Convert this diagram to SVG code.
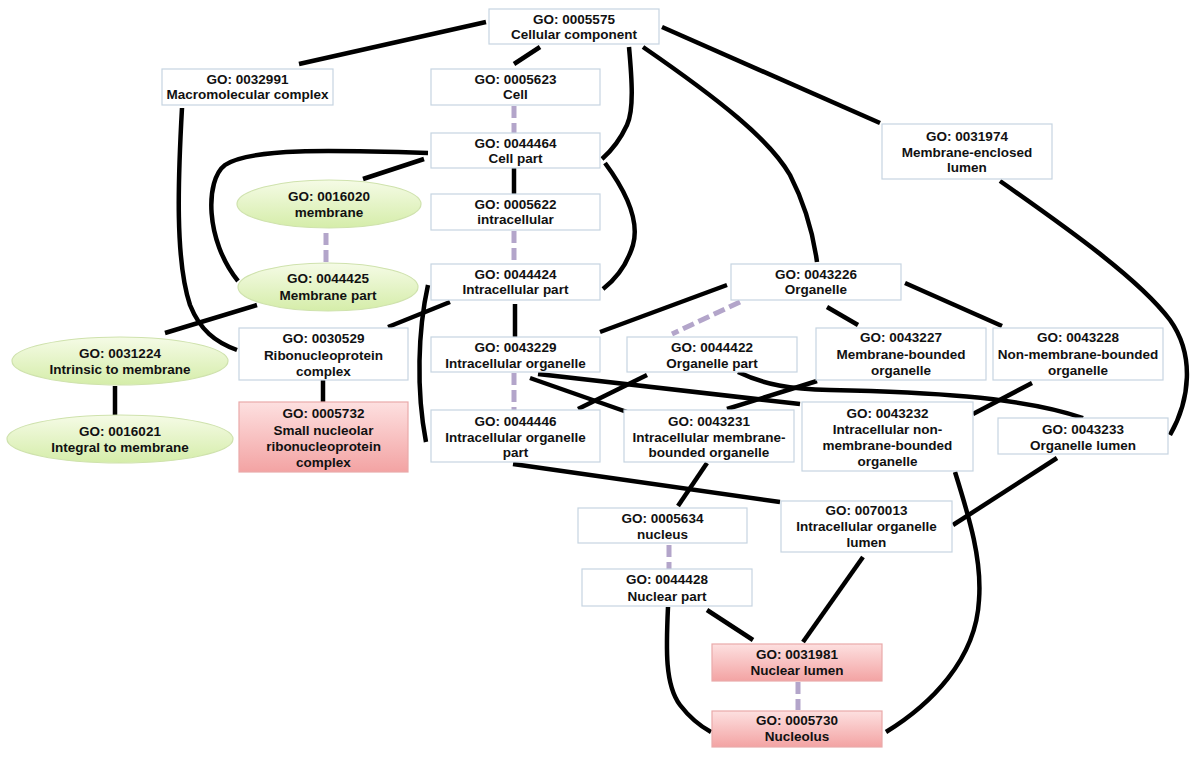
<svg xmlns="http://www.w3.org/2000/svg" width="1200" height="757" viewBox="0 0 1200 757">
<defs>
<linearGradient id="pink" x1="0" y1="0" x2="0" y2="1">
<stop offset="0" stop-color="#fde0e0"/>
<stop offset="1" stop-color="#f3a3a3"/>
</linearGradient>
<linearGradient id="green" x1="0" y1="0" x2="0" y2="1">
<stop offset="0" stop-color="#f5fbe6"/>
<stop offset="1" stop-color="#d5eda9"/>
</linearGradient>
<style>
.box{fill:#ffffff;stroke:#c6d4e1;stroke-width:1.2}
.pk{fill:url(#pink);stroke:#e9aaaa;stroke-width:1.2}
.gr{fill:url(#green);stroke:#cfe2ad;stroke-width:1.2}
text{font-family:"Liberation Sans",Arial,sans-serif;font-weight:bold;font-size:13.5px;fill:#111;text-anchor:middle}
.s{fill:none;stroke:#000;stroke-width:4.5}
.d{fill:none;stroke:#b3a5ca;stroke-width:5;stroke-dasharray:12 5}
</style>
</defs>
<rect width="1200" height="757" fill="#ffffff"/>
<g id="connectors">
<path class="s" d="M486,22 L299,64"/>
<path class="s" d="M540,47 L514,64"/>
<path class="s" d="M629,47 C632,80 634,110 627,125 C620,140 610,152 602,159"/>
<path class="s" d="M662,27 L880,123"/>
<path class="s" d="M643,47 C720,100 770,140 790,175 C808,210 814,240 817,262"/>
<path class="d" d="M514,106 L514,133"/>
<path class="s" d="M428,153 C330,150 250,148 225,165 C205,180 205,240 238,281"/>
<path class="s" d="M424,159 L363,179"/>
<path class="s" d="M514,168 L514,194"/>
<path class="s" d="M605,163 C625,190 640,220 633,245 C626,268 612,282 603,289"/>
<path class="d" d="M514,231 L514,264"/>
<path class="d" d="M326,233 L326,262"/>
<path class="s" d="M182,108 C178,180 175,260 190,305 C200,330 215,342 237,350"/>
<path class="s" d="M257,305 L165,333"/>
<path class="s" d="M115,386 L115,415"/>
<path class="s" d="M323,380 L323,402"/>
<path class="s" d="M450,302 L388,327"/>
<path class="s" d="M428,285 C418,330 416,390 426,442"/>
<path class="s" d="M515,304 L515,337"/>
<path class="s" d="M727,285 L600,332"/>
<path class="d" d="M740,302 L672,334"/>
<path class="s" d="M827,307 L858,325"/>
<path class="s" d="M905,283 L1002,326"/>
<path class="s" d="M1000,181 C1070,230 1140,280 1170,320 C1195,355 1190,400 1170,435"/>
<path class="d" d="M514,373 L514,410"/>
<path class="s" d="M530,378 L627,412"/>
<path class="s" d="M538,374 L800,404"/>
<path class="s" d="M647,375 L578,409"/>
<path class="s" d="M738,372 C765,385 790,389 830,390 C920,392 1020,396 1083,418"/>
<path class="s" d="M817,381 L727,409"/>
<path class="s" d="M1032,383 L973,414"/>
<path class="s" d="M707,463 L678,506"/>
<path class="s" d="M513,464 L780,502"/>
<path class="s" d="M1057,458 L953,525"/>
<path class="s" d="M955,472 C970,520 982,560 979,600 C976,660 930,705 886,732"/>
<path class="d" d="M669,545 L669,569"/>
<path class="s" d="M863,557 L803,642"/>
<path class="s" d="M707,610 L753,640"/>
<path class="s" d="M668,607 C666,650 665,685 680,705 C690,718 700,726 711,732"/>
<path class="d" d="M798,682 L798,710"/>
</g>
<g id="n0005575"><rect class="box" x="489" y="9" width="170" height="35"/><text x="574" y="24">GO: 0005575</text><text x="574" y="39">Cellular component</text></g>
<g id="n0032991"><rect class="box" x="162" y="69" width="171" height="36"/><text x="247.5" y="84">GO: 0032991</text><text x="247.5" y="99">Macromolecular complex</text></g>
<g id="n0005623"><rect class="box" x="431" y="69" width="169" height="36"/><text x="515.5" y="84">GO: 0005623</text><text x="515.5" y="99">Cell</text></g>
<g id="n0044464"><rect class="box" x="431" y="133" width="169" height="35"/><text x="515.5" y="148">GO: 0044464</text><text x="515.5" y="163">Cell part</text></g>
<g id="n0005622"><rect class="box" x="431" y="194" width="169" height="36"/><text x="515.5" y="209">GO: 0005622</text><text x="515.5" y="224">intracellular</text></g>
<g id="n0031974"><rect class="box" x="882" y="124" width="170" height="55"/><text x="967" y="141">GO: 0031974</text><text x="967" y="156.5">Membrane-enclosed</text><text x="967" y="172">lumen</text></g>
<g id="n0016020"><ellipse class="gr" cx="329" cy="204" rx="92" ry="24"/><text x="329" y="201">GO: 0016020</text><text x="329" y="217">membrane</text></g>
<g id="n0044425"><ellipse class="gr" cx="328" cy="287" rx="90" ry="24"/><text x="328" y="283">GO: 0044425</text><text x="328" y="300">Membrane part</text></g>
<g id="n0031224"><ellipse class="gr" cx="120" cy="361" rx="108" ry="24"/><text x="120" y="358">GO: 0031224</text><text x="120" y="374">Intrinsic to membrane</text></g>
<g id="n0016021"><ellipse class="gr" cx="120" cy="439" rx="113" ry="24"/><text x="120" y="436">GO: 0016021</text><text x="120" y="452">Integral to membrane</text></g>
<g id="n0044424"><rect class="box" x="431" y="264" width="169" height="36"/><text x="515.5" y="279">GO: 0044424</text><text x="515.5" y="294">Intracellular part</text></g>
<g id="n0043226"><rect class="box" x="731" y="264" width="170" height="36"/><text x="816" y="279">GO: 0043226</text><text x="816" y="294">Organelle</text></g>
<g id="n0030529"><rect class="box" x="239" y="328" width="169" height="52"/><text x="323.5" y="343">GO: 0030529</text><text x="323.5" y="359.5">Ribonucleoprotein</text><text x="323.5" y="376">complex</text></g>
<g id="n0005732"><rect class="pk" x="239" y="402" width="169" height="70"/><text x="323.5" y="418">GO: 0005732</text><text x="323.5" y="434.5">Small nucleolar</text><text x="323.5" y="451">ribonucleoprotein</text><text x="323.5" y="467">complex</text></g>
<g id="n0043229"><rect class="box" x="431" y="337" width="169" height="35"/><text x="515.5" y="352">GO: 0043229</text><text x="515.5" y="368">Intracellular organelle</text></g>
<g id="n0044422"><rect class="box" x="627" y="337" width="170" height="35"/><text x="712" y="352">GO: 0044422</text><text x="712" y="368">Organelle part</text></g>
<g id="n0043227"><rect class="box" x="816" y="328" width="170" height="52"/><text x="901" y="342">GO: 0043227</text><text x="901" y="359">Membrane-bounded</text><text x="901" y="375">organelle</text></g>
<g id="n0043228"><rect class="box" x="993" y="328" width="170" height="52"/><text x="1078" y="342">GO: 0043228</text><text x="1078" y="359">Non-membrane-bounded</text><text x="1078" y="375">organelle</text></g>
<g id="n0044446"><rect class="box" x="431" y="410" width="169" height="52"/><text x="515.5" y="426">GO: 0044446</text><text x="515.5" y="442">Intracellular organelle</text><text x="515.5" y="457">part</text></g>
<g id="n0043231"><rect class="box" x="624" y="410" width="170" height="52"/><text x="709" y="426">GO: 0043231</text><text x="709" y="442">Intracellular membrane-</text><text x="709" y="457">bounded organelle</text></g>
<g id="n0043232"><rect class="box" x="802" y="402" width="171" height="69"/><text x="887.5" y="418">GO: 0043232</text><text x="887.5" y="434">Intracellular non-</text><text x="887.5" y="450">membrane-bounded</text><text x="887.5" y="466">organelle</text></g>
<g id="n0043233"><rect class="box" x="998" y="418" width="170" height="36"/><text x="1083" y="434">GO: 0043233</text><text x="1083" y="450">Organelle lumen</text></g>
<g id="n0005634"><rect class="box" x="578" y="508" width="169" height="35"/><text x="662.5" y="523">GO: 0005634</text><text x="662.5" y="539">nucleus</text></g>
<g id="n0070013"><rect class="box" x="781" y="501" width="171" height="51"/><text x="866.5" y="515">GO: 0070013</text><text x="866.5" y="531">Intracellular organelle</text><text x="866.5" y="547">lumen</text></g>
<g id="n0044428"><rect class="box" x="582" y="569" width="170" height="37"/><text x="667" y="584">GO: 0044428</text><text x="667" y="601">Nuclear part</text></g>
<g id="n0031981"><rect class="pk" x="712" y="644" width="170" height="37"/><text x="797" y="659">GO: 0031981</text><text x="797" y="675">Nuclear lumen</text></g>
<g id="n0005730"><rect class="pk" x="712" y="711" width="170" height="36"/><text x="797" y="725">GO: 0005730</text><text x="797" y="741">Nucleolus</text></g>
</svg>
